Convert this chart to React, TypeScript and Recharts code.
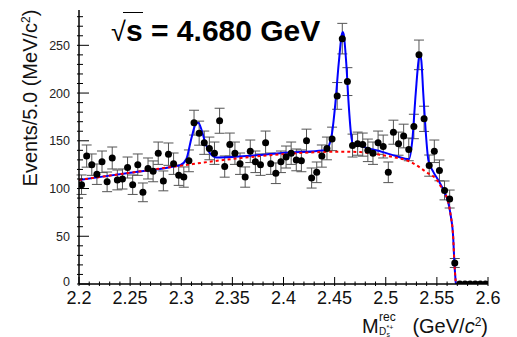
import React from "react"
import { ComposedChart, XAxis, YAxis, Scatter, Line, ErrorBar } from "recharts"

// histogram: 80 bins of 5 MeV from 2.2 to 2.6
const binLow = 2.2
const binWidth = 0.005

const counts = [
  104, 134, 125, 115, 128, 107, 132, 109, 110, 122,
  104, 125, 96, 121, 118, 137, 108, 136, 126, 114,
  112, 129, 169, 158, 148, 142, 137, 171, 123, 146,
  137, 126, 112, 139, 128, 125, 148, 126, 116, 128,
  133, 137, 130, 129, 150, 111, 117, 134, 142, 152,
  197, 257, 212, 145, 147, 146, 140, 137, 148, 144,
  117, 159, 147, 155, 141, 165, 240, 173, 124, 139,
  119, 98, 89, 22, 0, 0, 0, 0, 0, 0,
]

const errors = [
  10.2, 11.6, 11.2, 10.7, 11.3, 10.3, 11.5, 10.4, 10.5, 11.0,
  10.2, 11.2, 9.8, 11.0, 10.9, 11.7, 10.4, 11.7, 11.2, 10.7,
  10.6, 11.4, 13.0, 12.6, 12.2, 11.9, 11.7, 13.1, 11.1, 12.1,
  11.7, 11.2, 10.6, 11.8, 11.3, 11.2, 12.2, 11.2, 10.8, 11.3,
  11.5, 11.7, 11.4, 11.4, 12.2, 10.5, 10.8, 11.6, 11.9, 12.3,
  14.0, 16.0, 14.6, 12.0, 12.1, 12.1, 11.8, 11.7, 12.2, 12.0,
  10.8, 12.6, 12.1, 12.4, 11.9, 12.8, 15.5, 13.2, 11.1, 11.8,
  10.9, 9.9, 9.4, 4.7, 0, 0, 0, 0, 0, 0,
]

// total fit (blue)
const fitX = [
  2.2, 2.25, 2.29, 2.299, 2.305, 2.31, 2.3144, 2.3167, 2.32, 2.3232,
  2.328, 2.3347, 2.35, 2.364, 2.38, 2.3985, 2.42, 2.4409, 2.4445, 2.4474,
  2.4507, 2.454, 2.4572, 2.458, 2.4588, 2.4614, 2.4637, 2.466, 2.4677, 2.4735,
  2.4833, 2.4963, 2.51, 2.5227, 2.526, 2.5293, 2.5325, 2.5335, 2.5348, 2.5367,
  2.539, 2.5417, 2.5465, 2.5514, 2.558, 2.5605, 2.5635, 2.566, 2.567, 2.5682,
  2.5686, 2.6,
]
const fitY = [
  109, 116.5, 122.5, 124.5, 131, 153, 168, 169, 161, 149,
  137, 132.5, 133, 134, 135.5, 137.3, 138.5, 140, 145, 157.6,
  189, 231, 262, 264, 262, 231, 189, 157.6, 147, 145.4,
  142, 138.4, 134, 130.7, 150.6, 199.5, 237, 240, 234, 199.5,
  161, 129.7, 117.5, 108.8, 95, 88, 72, 48, 25, 5,
  0, 0,
]

// background (red dashed)
const bkgX = [
  2.2, 2.25, 2.3, 2.35, 2.4, 2.43, 2.455, 2.475, 2.491, 2.507,
  2.524, 2.54, 2.55, 2.556, 2.5605, 2.5635, 2.566, 2.567, 2.5682, 2.5686,
  2.6,
]
const bkgY = [
  109, 116.5, 124, 131, 136, 138, 138.6, 138.2, 136, 133,
  128, 117, 109, 98, 88, 72, 48, 25, 5, 0,
  0,
]

const points = counts.map((c, i) => ({
  x: +(binLow + binWidth * (i + 0.5)).toFixed(4),
  y: c,
  err: errors[i],
}))
const fitData = fitX.map((x, i) => ({ x, y: fitY[i] }))
const bkgData = bkgX.map((x, i) => ({ x, y: bkgY[i] }))

const xTicks = Array.from({ length: 41 }, (_, i) => +(2.2 + i * 0.01).toFixed(2))
const yTicks = Array.from({ length: 29 }, (_, i) => i * 10)

const FONT = "'Liberation Sans', Arial, Helvetica, sans-serif"

const isMajorX = (v: number) => Math.abs(v * 20 - Math.round(v * 20)) < 1e-6
const isMajorY = (v: number) => v % 50 === 0

const BottomTick = ({ x, y, payload }: any) => {
  const major = isMajorX(payload.value)
  return (
    <g>
      <line x1={x} x2={x} y1={y} y2={y - (major ? 9 : 4.5)} stroke="#000" strokeWidth={1} />
      {major && (
        <text x={x} y={y + 18} textAnchor="middle" fontSize={18} fontFamily={FONT} fill="#111">
          {String(+payload.value.toFixed(2))}
        </text>
      )}
    </g>
  )
}

const TopTick = ({ x, y, payload }: any) => {
  const major = isMajorX(payload.value)
  return <line x1={x} x2={x} y1={y} y2={y + (major ? 8 : 4)} stroke="#000" strokeWidth={1} />
}

const LeftTick = ({ x, y, payload }: any) => {
  const major = isMajorY(payload.value)
  // the "0" sits a little higher so it clears the first x label
  const dy = payload.value === 0 ? 2 : 4.5
  return (
    <g>
      <line x1={x} x2={x + (major ? 12 : 6)} y1={y} y2={y} stroke="#000" strokeWidth={1} />
      {major && (
        <text x={x - 7} y={y + dy} textAnchor="end" fontSize={12.5} fontFamily={FONT} fill="#222">
          {payload.value}
        </text>
      )}
    </g>
  )
}

const RightTick = ({ x, y, payload }: any) => {
  const major = isMajorY(payload.value)
  return <line x1={x} x2={x - (major ? 12 : 6)} y1={y} y2={y} stroke="#000" strokeWidth={1} />
}

const Marker = (props: any) => <circle cx={props.cx} cy={props.cy} r={3.5} fill="#000" />

export default function App() {
  return (
    <div style={{ position: "absolute", left: 0, top: 0, width: 517, height: 337, background: "#fff" }}>
      <ComposedChart width={517} height={337} margin={{ top: 10, right: 29, bottom: 0, left: 0 }}>
        <XAxis
          xAxisId="b"
          dataKey="x"
          type="number"
          domain={[2.2, 2.6]}
          ticks={xTicks}
          interval={0}
          height={53}
          tickSize={0}
          tickLine={false}
          tick={(p: any) => <BottomTick {...p} />}
          axisLine={{ stroke: "#000", strokeWidth: 1.5 }}
          allowDataOverflow
        />
        <XAxis
          xAxisId="t"
          orientation="top"
          dataKey="x"
          type="number"
          domain={[2.2, 2.6]}
          ticks={xTicks}
          interval={0}
          height={0}
          tickSize={0}
          tickLine={false}
          tick={(p: any) => <TopTick {...p} />}
          axisLine={{ stroke: "#000", strokeWidth: 1.5 }}
          allowDataOverflow
        />
        <YAxis
          yAxisId="l"
          type="number"
          domain={[0, 287]}
          ticks={yTicks}
          interval={0}
          width={79}
          tickSize={0}
          tickLine={false}
          tick={(p: any) => <LeftTick {...p} />}
          axisLine={{ stroke: "#000", strokeWidth: 1.5 }}
          allowDataOverflow
        />
        <YAxis
          yAxisId="r"
          orientation="right"
          type="number"
          domain={[0, 287]}
          ticks={yTicks}
          interval={0}
          width={0}
          tickSize={0}
          tickLine={false}
          tick={(p: any) => <RightTick {...p} />}
          axisLine={{ stroke: "#000", strokeWidth: 1.5 }}
          allowDataOverflow
        />
        <Scatter
          xAxisId="b"
          yAxisId="l"
          data={points}
          dataKey="y"
          shape={Marker}
          isAnimationActive={false}
        >
          <ErrorBar dataKey="err" direction="y" width={5} stroke="#555" strokeWidth={1} />
        </Scatter>
        <Line
          xAxisId="b"
          yAxisId="l"
          data={fitData}
          dataKey="y"
          type="monotone"
          stroke="#0000ff"
          strokeWidth={2}
          dot={false}
          isAnimationActive={false}
        />
        <Line
          xAxisId="b"
          yAxisId="l"
          data={bkgData}
          dataKey="y"
          type="monotone"
          stroke="#ff0000"
          strokeWidth={2}
          strokeDasharray="3 3"
          dot={false}
          isAnimationActive={false}
        />
      </ComposedChart>
      <svg
        width={517}
        height={337}
        style={{ position: "absolute", left: 0, top: 0, pointerEvents: "none" }}
        fontFamily={FONT}
      >
        <text x={111} y={41} fontSize={27} fill="#000">
          √
        </text>
        <line x1={123} x2={143} y1={12.5} y2={12.5} stroke="#000" strokeWidth={1} />
        <text x={126} y={41} fontSize={30} fontWeight="bold" fill="#000">
          s = 4.680 GeV
        </text>
        <text x={37} y={98} fontSize={20} textAnchor="middle" fill="#111" transform="rotate(-90 37 98)">
          Events/5.0 (MeV/c<tspan baselineShift="super" fontSize={12}>2</tspan>)
        </text>
        <text x={362} y={333} fontSize={20} fill="#111">
          M
        </text>
        <text x={379} y={321} fontSize={12} fill="#111">
          rec
        </text>
        <text x={379} y={335} fontSize={10} fill="#111">
          D
        </text>
        <text x={386.5} y={337} fontSize={7} fill="#111">
          s
        </text>
        <text x={386.5} y={330} fontSize={7} fill="#111">
          *+
        </text>
        <text x={488} y={333} fontSize={20} textAnchor="end" fill="#111">
          (GeV/<tspan fontStyle="italic">c</tspan>
          <tspan baselineShift="super" fontSize={12}>2</tspan>)
        </text>
      </svg>
    </div>
  )
}
